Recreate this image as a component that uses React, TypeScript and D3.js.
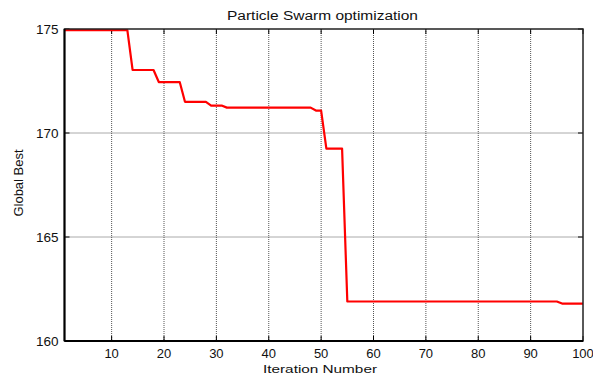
import React from "react";
import * as d3 from "d3";

const iterations = [1, 13, 14, 18, 19, 23, 24, 28, 29, 31, 32, 48, 49, 50, 51, 54, 55, 95, 96, 100];
const globalBest = [174.95, 174.95, 173.03, 173.03, 172.45, 172.45, 171.5, 171.5, 171.32, 171.32, 171.22, 171.22, 171.08, 171.08, 169.25, 169.25, 161.9, 161.9, 161.8, 161.8];
const xTicks = [10, 20, 30, 40, 50, 60, 70, 80, 90, 100];
const yTicks = [160, 165, 170, 175];

const W = 593, H = 378;
const left = 64.5, right = 583, top = 29, bottom = 341;

export default function App() {
  const x = d3.scaleLinear().domain([1, 100]).range([left, right]);
  const y = d3.scaleLinear().domain([160, 175]).range([bottom, top]);
  const line = d3.line<number>().x((_, i) => x(iterations[i])).y((d) => y(d));
  const font = "'Liberation Sans', Arial, sans-serif";
  return (
    <svg width={W} height={H} style={{ position: "absolute", left: 0, top: 0, background: "#fff" }} fontFamily={font}>
      <rect x={0} y={0} width={W} height={H} fill="#fff" />
      {xTicks.filter((t) => t < 100).map((t) => (
        <line key={"gx" + t} x1={x(t)} x2={x(t)} y1={top} y2={bottom} stroke="#555" strokeWidth={1} strokeDasharray="1,1" />
      ))}
      {yTicks.filter((t) => t > 160 && t < 175).map((t) => (
        <line key={"gy" + t} x1={left} x2={right} y1={y(t)} y2={y(t)} stroke="#555" strokeWidth={1} strokeDasharray="1,1" />
      ))}
      {xTicks.map((t) => (
        <g key={"tx" + t}>
          <line x1={x(t)} x2={x(t)} y1={bottom} y2={bottom - 5} stroke="#000" />
          <line x1={x(t)} x2={x(t)} y1={top} y2={top + 5} stroke="#000" />
          <text x={x(t)} y={bottom + 17} textAnchor="middle" fontSize={13} fill="#111">{t}</text>
        </g>
      ))}
      {yTicks.map((t) => (
        <g key={"ty" + t}>
          <line x1={left} x2={left + 5} y1={y(t)} y2={y(t)} stroke="#000" />
          <line x1={right} x2={right - 5} y1={y(t)} y2={y(t)} stroke="#000" />
          <text x={left - 6} y={y(t) + 5} textAnchor="end" fontSize={13.5} fill="#111">{t}</text>
        </g>
      ))}
      <path d={line(globalBest) || ""} fill="none" stroke="#ff0000" strokeWidth={2.2} strokeLinejoin="round" />
      <rect x={left} y={top} width={right - left} height={bottom - top} fill="none" stroke="#222" strokeWidth={1.5} />
      <line x1={left} x2={left} y1={top} y2={bottom} stroke="#000" strokeWidth={2} />
      <line x1={left} x2={right} y1={bottom} y2={bottom} stroke="#000" strokeWidth={2} />
      <text x={322.5} y={20} textAnchor="middle" fontSize={12} fill="#111" textLength={191} lengthAdjust="spacingAndGlyphs">Particle Swarm optimization</text>
      <text x={320} y={373} textAnchor="middle" fontSize={11.5} fill="#111" textLength={114} lengthAdjust="spacingAndGlyphs">Iteration Number</text>
      <text transform={`translate(23,183) rotate(-90)`} textAnchor="middle" fontSize={12.5} fill="#111" textLength={67} lengthAdjust="spacingAndGlyphs">Global Best</text>
    </svg>
  );
}
